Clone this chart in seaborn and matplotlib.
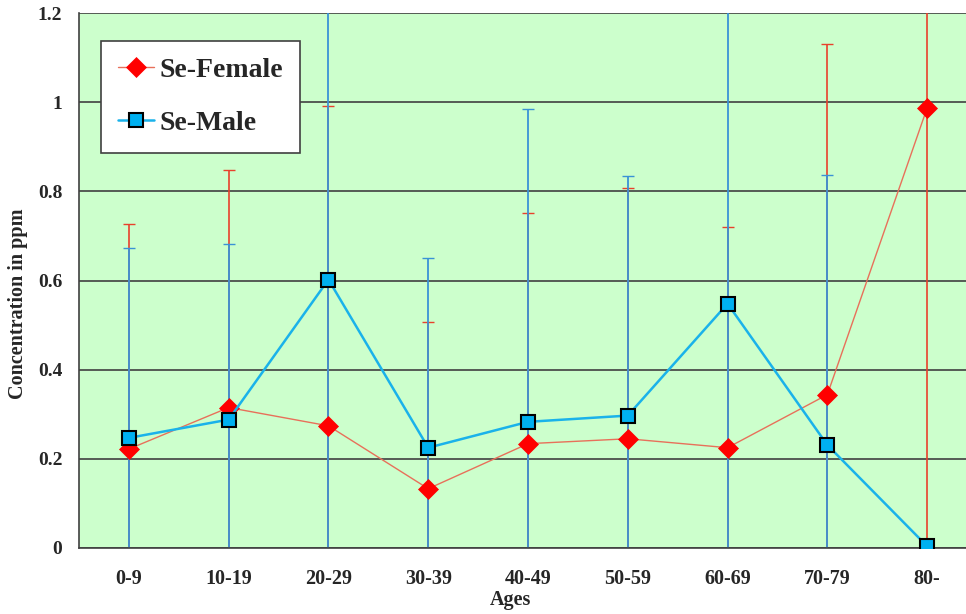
import numpy as np
import pandas as pd
import matplotlib
matplotlib.use('Agg')
import matplotlib.pyplot as plt
import seaborn as sns

# --- dados ---
ages = ['0-9', '10-19', '20-29', '30-39', '40-49', '50-59', '60-69', '70-79', '80-']
female = [0.222, 0.315, 0.274, 0.133, 0.234, 0.245, 0.225, 0.344, 0.987]
female_err = [0.504, 0.532, 0.717, 0.373, 0.517, 0.562, 0.496, 0.786, 1.100]
male = [0.247, 0.288, 0.602, 0.225, 0.283, 0.297, 0.548, 0.231, 0.004]
male_err = [0.427, 0.395, 0.750, 0.425, 0.701, 0.537, 0.800, 0.605, 0.0]

sns.set_theme(style='white')
plt.rcParams['font.family'] = ['Liberation Serif', 'DejaVu Serif']
plt.rcParams['font.weight'] = 'bold'

df = pd.DataFrame({'age': ages, 'female': female, 'male': male})
x = np.arange(len(ages))
df['xpos'] = x

fig = plt.figure(figsize=(9.66, 6.14), dpi=100)
ax = fig.add_axes([0.0818, 0.1075, 0.9296, 0.8713])
ax.set_facecolor('#CCFFCC')

# barras de erro (atrás das linhas)
ax.errorbar(x, female, yerr=female_err, fmt='none', ecolor='#E8412C',
            elinewidth=1.2, capsize=4, capthick=1, zorder=2)
ax.errorbar(x, male, yerr=male_err, fmt='none', ecolor='#3A92D6',
            elinewidth=1.3, capsize=4, capthick=1, zorder=2.1)

sns.lineplot(data=df, x='xpos', y='female', ax=ax, color='#E8705A', linewidth=1,
             marker='D', markersize=10, markerfacecolor='#FF0000',
             markeredgecolor='#FF0000', markeredgewidth=0.5, label='Se-Female',
             zorder=3)
sns.lineplot(data=df, x='xpos', y='male', ax=ax, color='#1AB2EA', linewidth=1.8,
             marker='s', markersize=10, markerfacecolor='#00B0F0',
             markeredgecolor='black', markeredgewidth=1.5, label='Se-Male',
             zorder=4)

ax.set_xlim(-0.5, len(ages) - 0.5)
ax.set_ylim(0, 1.2)
ax.set_yticks([0, 0.2, 0.4, 0.6, 0.8, 1.0, 1.2])
ax.set_yticklabels(['0', '0.2', '0.4', '0.6', '0.8', '1', '1.2'])
ax.set_xticks(x)
ax.set_xticklabels(ages)
ax.set_xticks(x[:-1] + 0.5, minor=True)
ax.tick_params(axis='x', which='major', length=0, pad=15, labelsize=14.5)
ax.tick_params(axis='x', which='minor', direction='in', length=5, width=1, color='#606060')
ax.tick_params(axis='y', length=0, pad=12, labelsize=14)
for lab in ax.get_xticklabels() + ax.get_yticklabels():
    lab.set_fontweight('bold')

ax.yaxis.grid(True, color='#404040', linewidth=1.2)
ax.set_axisbelow(True)
for side in ['top', 'right']:
    ax.spines[side].set_visible(False)
for side in ['left', 'bottom']:
    ax.spines[side].set_color('#404040')
    ax.spines[side].set_linewidth(1.2)

ax.set_xlabel('Ages', fontsize=14.5, fontweight='bold')
ax.set_ylabel('Concentration in ppm', fontsize=14.5, fontweight='bold')
ax.xaxis.set_label_coords(0.48, -0.097)
ax.yaxis.set_label_coords(-0.068, 0.456)
ax.xaxis.label.set_va('center')
ax.yaxis.label.set_va('center')

leg = ax.legend(loc='upper left', bbox_to_anchor=(0.0245, 0.948), fontsize=20,
                frameon=True, fancybox=False, framealpha=1, edgecolor='#404040',
                borderpad=0.6, labelspacing=1.0, handlelength=1.3, handletextpad=0.2,
                borderaxespad=0)
leg.get_frame().set_linewidth(1.2)
for t in leg.get_texts():
    t.set_fontweight('bold')

fig.savefig('out.png', dpi=100)
